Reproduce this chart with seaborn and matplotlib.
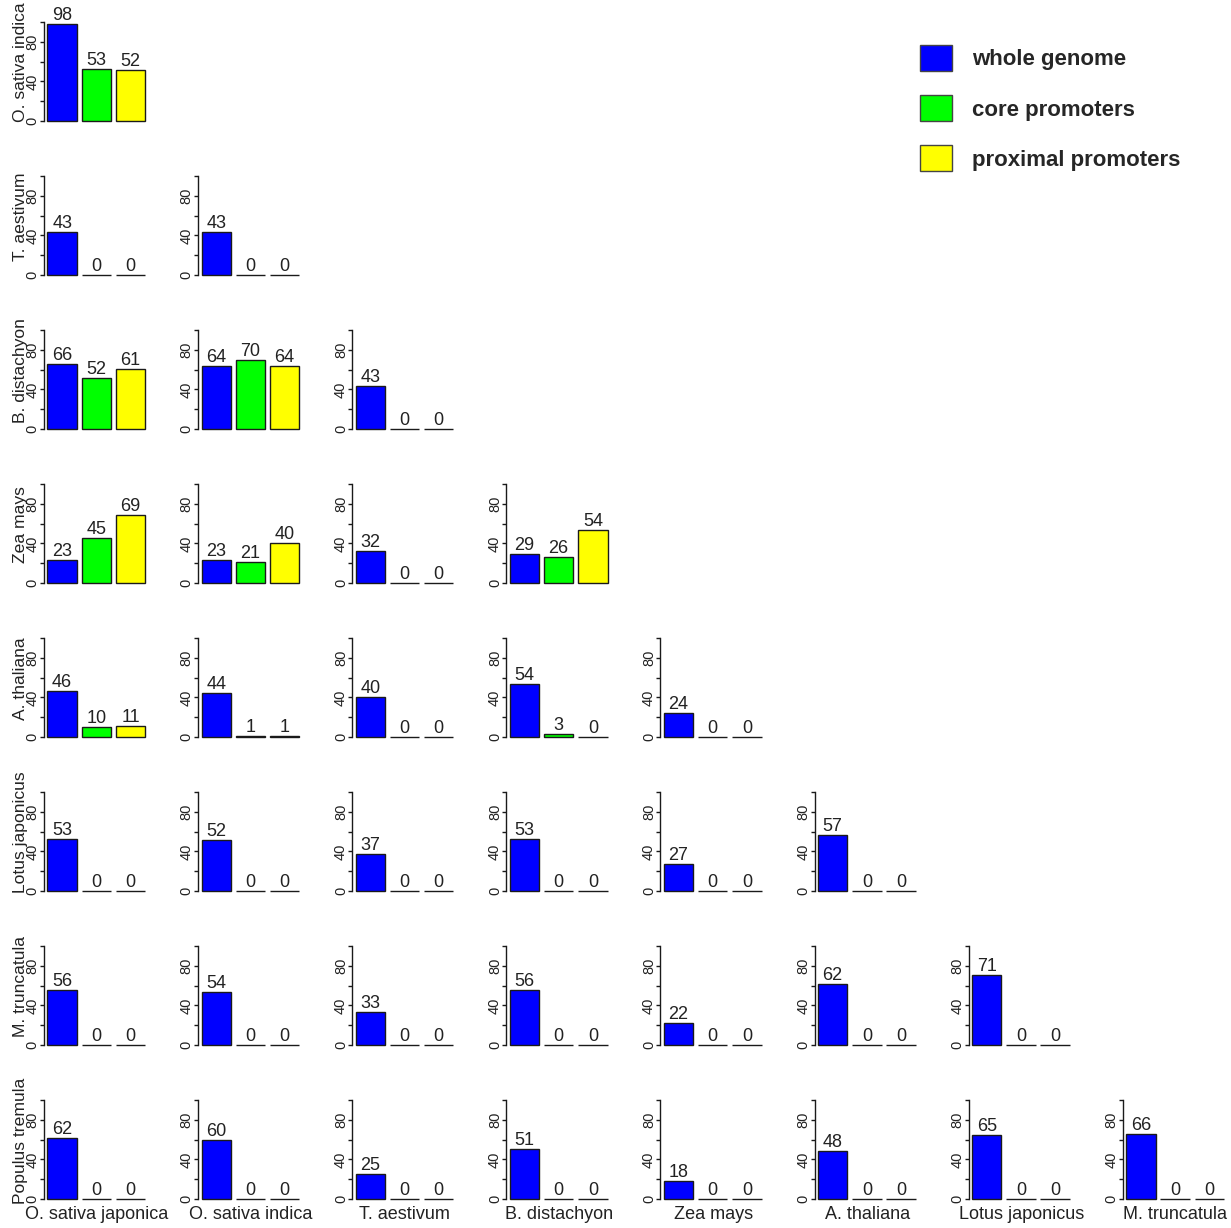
import matplotlib
matplotlib.use("Agg")
import matplotlib.pyplot as plt
from matplotlib.patches import Patch
import seaborn as sns
import pandas as pd

sns.set_style("white")
plt.rcParams['font.family'] = ['Liberation Sans', 'DejaVu Sans']

row_species = ["O. sativa indica", "T. aestivum", "B. distachyon", "Zea mays",
               "A. thaliana", "Lotus japonicus", "M. truncatula", "Populus tremula"]
col_species = ["O. sativa japonica", "O. sativa indica", "T. aestivum", "B. distachyon",
               "Zea mays", "A. thaliana", "Lotus japonicus", "M. truncatula"]
categories = ["whole genome", "core promoters", "proximal promoters"]
colors = ["#0000FF", "#00FF00", "#FFFF00"]

# values[row][col] = [whole genome, core promoters, proximal promoters]
row_indica = [[98, 53, 52]]
row_aestivum = [[43, 0, 0], [43, 0, 0]]
row_distachyon = [[66, 52, 61], [64, 70, 64], [43, 0, 0]]
row_zea = [[23, 45, 69], [23, 21, 40], [32, 0, 0], [29, 26, 54]]
row_thaliana = [[46, 10, 11], [44, 1, 1], [40, 0, 0], [54, 3, 0], [24, 0, 0]]
row_lotus = [[53, 0, 0], [52, 0, 0], [37, 0, 0], [53, 0, 0], [27, 0, 0], [57, 0, 0]]
row_truncatula = [[56, 0, 0], [54, 0, 0], [33, 0, 0], [56, 0, 0], [22, 0, 0], [62, 0, 0], [71, 0, 0]]
row_populus = [[62, 0, 0], [60, 0, 0], [25, 0, 0], [51, 0, 0], [18, 0, 0], [48, 0, 0], [65, 0, 0], [66, 0, 0]]
all_rows = [row_indica, row_aestivum, row_distachyon, row_zea,
            row_thaliana, row_lotus, row_truncatula, row_populus]

W, H = 1231, 1228
fig = plt.figure(figsize=(W / 100, H / 100), dpi=100)

col_step = 154.1
row_step = 154.0
pitch = 34.2
xl, xr = -0.53, 2.55
ax_w = (xr - xl) * pitch
ax_h = 99
edge = "#1a1a1a"
for r, row in enumerate(all_rows):
    for c, vals in enumerate(row):
        x0 = 44 + col_step * c
        y0 = 121 + row_step * r
        ax = fig.add_axes([x0 / W, 1 - y0 / H, ax_w / W, ax_h / H])
        df = pd.DataFrame({"cat": categories, "val": vals})
        sns.barplot(data=df, x="cat", y="val", hue="cat", palette=colors,
                    saturation=1, width=0.86, edgecolor=edge, linewidth=1.0,
                    legend=False, ax=ax)
        for p in ax.patches:
            p.set_clip_on(False)
        for cont in ax.containers:
            ax.bar_label(cont, fontsize=13, padding=0, color="#222222")
        ax.set_xlim(xl, xr)
        ax.set_ylim(0, 100)
        for s in ["top", "right", "bottom"]:
            ax.spines[s].set_visible(False)
        ax.spines["left"].set_bounds(0, 100)
        ax.spines["left"].set_linewidth(1.0)
        ax.spines["left"].set_color(edge)
        ax.set_yticks([0, 20, 40, 60, 80, 100])
        ax.set_yticklabels(["0", "", "40", "", "80", ""], rotation=90, va="center")
        ax.tick_params(axis="y", left=True, length=2.6, width=1.0, pad=0.5,
                       labelsize=10.5, color=edge, labelcolor="#222222")
        ax.set_xticks([])
        ax.patch.set_alpha(0)
        if c == 0:
            ax.set_ylabel(row_species[r], fontsize=12.6, color="#222222")
            ax.yaxis.set_label_coords((28 - 44) / ax_w, 0.59)
        else:
            ax.set_ylabel("")
        if r == len(all_rows) - 1:
            ax.set_xlabel(col_species[c], fontsize=13, labelpad=5, color="#222222")
        else:
            ax.set_xlabel("")

handles = [Patch(facecolor=col, edgecolor="#444444", linewidth=1.0, label=lab)
           for col, lab in zip(colors, categories)]
fig.legend(handles=handles, loc="upper left", bbox_to_anchor=(920 / W, 1 - 45 / H),
           frameon=False, handlelength=1.44, handleheight=1.44, handletextpad=0.9,
           labelspacing=1.07, borderpad=0, borderaxespad=0,
           prop={"size": 16, "weight": "bold"})

fig.savefig("out.png", dpi=100)
